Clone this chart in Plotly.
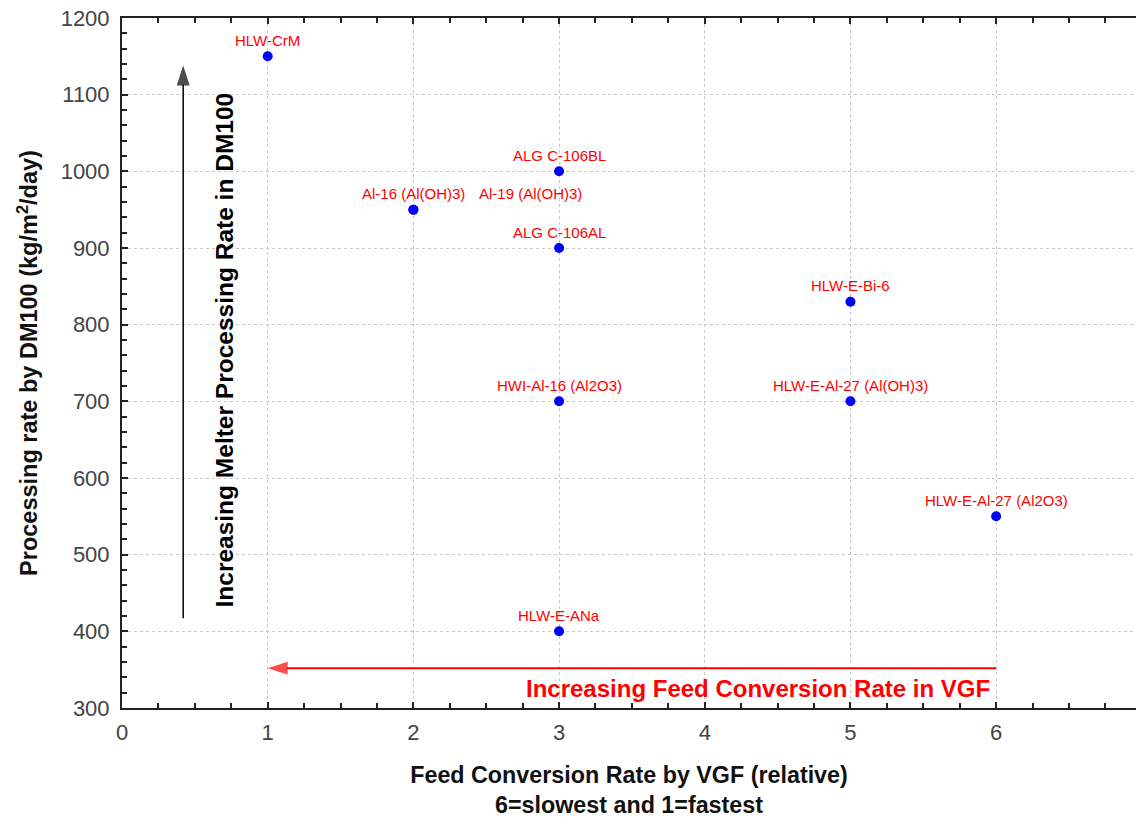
import plotly.graph_objects as go

# Glass feed data: relative VGF conversion rank vs DM100 processing rate
feed_names = ["HLW-CrM", "ALG C-106BL", "Al-16 (Al(OH)3)", "Al-19 (Al(OH)3)",
              "ALG C-106AL", "HLW-E-Bi-6", "HWI-Al-16 (Al2O3)",
              "HLW-E-Al-27 (Al(OH)3)", "HLW-E-Al-27 (Al2O3)", "HLW-E-ANa"]
vgf_rank = [1, 3, 2, 2, 3, 5, 3, 5, 6, 3]
dm100_rate = [1150, 1000, 950, 950, 900, 830, 700, 700, 550, 400]
# horizontal label offsets (px) so coincident points stay readable
label_dx = [0, 0, 0, 117, 0, 0, 0, 0, 0, 0]

x_ticks = [0, 1, 2, 3, 4, 5, 6]
y_ticks = [300, 400, 500, 600, 700, 800, 900, 1000, 1100, 1200]

FONT = "Liberation Sans, Arial, sans-serif"

W, H = 1136, 818
ML, MR, MT, MB = 122, 0, 18, 110
pw, ph = W - ML - MR, H - MT - MB

fig = go.Figure()

# trend arrows: line with an arrow-shaped marker at the head end
fig.add_trace(go.Scatter(
    x=[0.42, 0.42], y=[417, 1138], mode="lines+markers",
    line=dict(color="#000000", width=1.5),
    marker=dict(symbol="arrow", size=[0, 21], angleref="previous", color="#000000",
                line=dict(width=0)),
    hoverinfo="skip", showlegend=False,
))
fig.add_trace(go.Scatter(
    x=[6, 1], y=[352, 352], mode="lines+markers",
    line=dict(color="#FF0000", width=2),
    marker=dict(symbol="arrow", size=[0, 21], angleref="previous", color="#FF0000",
                line=dict(width=0)),
    hoverinfo="skip", showlegend=False,
))

fig.add_trace(go.Scatter(
    x=vgf_rank, y=dm100_rate, mode="markers",
    marker=dict(color="#0000FF", size=10, symbol="circle"),
    hovertext=feed_names, showlegend=False,
))

annotations = []
for name, xv, yv, dx in zip(feed_names, vgf_rank, dm100_rate, label_dx):
    annotations.append(dict(
        x=xv, y=yv, text=name, showarrow=False, xshift=dx, yshift=16,
        font=dict(family=FONT, size=15, color="#FF0000"),
    ))

annotations.append(dict(
    x=(208 - ML) / pw, y=1 - (350 - MT) / ph, xref="paper", yref="paper",
    text="<b>Increasing Melter Processing Rate in DM100</b>",
    showarrow=False, textangle=-90,
    font=dict(family=FONT, size=24.5, color="#000000"),
))
annotations.append(dict(
    x=5.97, y=326, xref="x", yref="y", xanchor="right",
    text="<b>Increasing Feed Conversion Rate in VGF</b>", showarrow=False,
    font=dict(family=FONT, size=24, color="#FF0000"),
))

axis_common = dict(showline=True, linecolor="#222222", linewidth=2,
                   showgrid=True, gridcolor="#C8C8C8", griddash="dot", gridwidth=1,
                   ticks="inside", ticklen=6, tickcolor="#222222", tickwidth=1.5,
                   zeroline=False,
                   tickfont=dict(family=FONT, size=22, color="#444444"))

fig.update_layout(
    width=W, height=H,
    margin=dict(l=ML, r=MR, t=MT, b=MB),
    paper_bgcolor="white", plot_bgcolor="white",
    annotations=annotations,
    xaxis=dict(**axis_common, range=[0, 6.96], tickvals=x_ticks,
               mirror="allticks", ticklabelstandoff=4,
               minor=dict(ticks="inside", ticklen=5, dtick=0.25, tickcolor="#222222",
                          showgrid=False),
               title=dict(text="<b>Feed Conversion Rate by VGF (relative)<br>6=slowest and 1=fastest</b>",
                          font=dict(family=FONT, size=23.3, color="#111111"), standoff=22)),
    yaxis=dict(**axis_common, range=[300, 1200], tickvals=y_ticks,
               ticklabelstandoff=6,
               minor=dict(ticks="inside", ticklen=5, dtick=20, tickcolor="#222222",
                          showgrid=False),
               title=dict(text="<b>Processing rate by DM100 (kg/m<sup>2</sup>/day)</b>",
                          font=dict(family=FONT, size=23.5, color="#111111"), standoff=16)),
)

fig.write_html("out.html")
